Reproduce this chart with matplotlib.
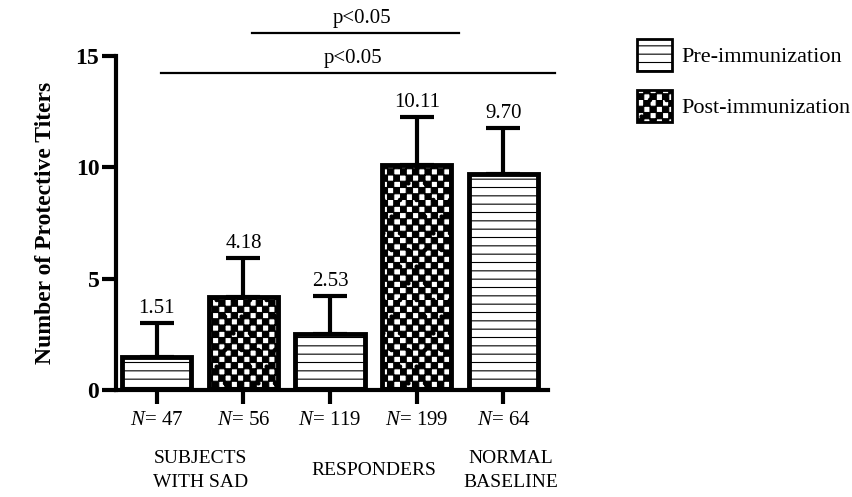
import numpy as np
import matplotlib
matplotlib.use('Agg')
import matplotlib.pyplot as plt
import matplotlib.hatch as mhatch
from matplotlib.path import Path
from matplotlib.patches import Patch

# data
means = [1.51, 4.18, 2.53, 10.11, 9.70]
errs = [1.49, 1.75, 1.69, 2.14, 2.06]
n_labels = ['47', '56', '119', '199', '64']
kind = ['pre', 'post', 'pre', 'post', 'pre']
groups = ['SUBJECTS\nWITH SAD', 'RESPONDERS', 'NORMAL\nBASELINE']
group_pos = [0.5, 2.5, 4.08]
sig_lines = [(1.10, 3.49, 16.03), (0.05, 4.60, 14.23)]
sig_text = ['p<0.05', 'p<0.05']
sig_text_pos = [(2.37, 16.25), (2.26, 14.45)]
legend_labels = ['Pre-immunization', 'Post-immunization']


# checkerboard hatch, takes over the '.' character
class Checker(mhatch.HatchPatternBase):
    filled = True

    def __init__(self, hatch, density):
        self.n = 16 if hatch.count('.') else 0
        self.num_vertices = (self.n * self.n // 2) * 5

    def set_vertices_and_codes(self, vertices, codes):
        s = 1.0 / self.n
        k = 0
        for i in range(self.n):
            for j in range(self.n):
                if (i + j) % 2:
                    continue
                x0, y0 = i * s, j * s
                vertices[k:k + 5] = [(x0, y0), (x0 + s, y0), (x0 + s, y0 + s),
                                     (x0, y0 + s), (x0, y0)]
                codes[k:k + 5] = [Path.MOVETO, Path.LINETO, Path.LINETO,
                                  Path.LINETO, Path.CLOSEPOLY]
                k += 5


for i, h in enumerate(mhatch._hatch_types):
    if h is mhatch.SmallCircles:
        mhatch._hatch_types[i] = Checker

plt.rcParams['font.family'] = ['Liberation Serif', 'DejaVu Serif']
plt.rcParams['mathtext.fontset'] = 'custom'
plt.rcParams['mathtext.rm'] = 'Liberation Serif'
plt.rcParams['mathtext.it'] = 'Liberation Serif:italic'
plt.rcParams['hatch.linewidth'] = 0.8

hatches = {'pre': '--', 'post': '.'}

fig = plt.figure(figsize=(8.53, 4.97), dpi=100)
ax = fig.add_axes([0.136, 0.215, 0.506, 0.672])

x = np.arange(len(means))
ax.bar(x, means, width=0.8, color='white', edgecolor='black', linewidth=3.5,
       hatch=[hatches[k] for k in kind], zorder=2)
ax.errorbar(x, means, yerr=[np.zeros(len(errs)), errs], fmt='none',
            ecolor='black', elinewidth=3, capsize=12.5, capthick=3, zorder=1)
for xi, m, e in zip(x, means, errs):
    ax.text(xi, m + e + 0.25, '%.2f' % m, ha='center', va='bottom', fontsize=15)

for (x0, x1, y), t, (tx, ty) in zip(sig_lines, sig_text, sig_text_pos):
    ax.plot([x0, x1], [y, y], color='black', lw=1.6, clip_on=False)
    ax.text(tx, ty, t, ha='center', va='bottom', fontsize=15, clip_on=False)

ax.set_xlim(-0.47, 4.51)
ax.set_ylim(0, 15)
ax.set_yticks([0, 5, 10, 15])
ax.set_xticks(x)
ax.set_xticklabels([r'$\mathit{N}$= ' + n for n in n_labels], fontsize=15)
for lab in ax.get_yticklabels():
    lab.set_fontweight('bold')
    lab.set_fontsize(17)
ax.tick_params(axis='both', direction='out', width=3, length=10, pad=2)
ax.tick_params(axis='x', pad=5)
ax.set_ylabel('Number of Protective Titers', fontsize=17, fontweight='bold',
              labelpad=14)

for s in ['top', 'right']:
    ax.spines[s].set_visible(False)
for s in ['left', 'bottom']:
    ax.spines[s].set_linewidth(3)

for gx, g in zip(group_pos, groups):
    ax.text(gx, -0.24, g, transform=ax.get_xaxis_transform(), ha='center',
            va='center', fontsize=14, linespacing=1.5)

handles = [Patch(facecolor='white', edgecolor='black', linewidth=2,
                 hatch=hatches[k]) for k in ['pre', 'post']]
fig.legend(handles, legend_labels, loc='upper left',
           bbox_to_anchor=(0.747, 0.922), frameon=False, fontsize=16,
           handlelength=1.55, handleheight=1.85, labelspacing=0.85,
           borderpad=0, borderaxespad=0, handletextpad=0.45)

fig.savefig('out.png', dpi=100)
